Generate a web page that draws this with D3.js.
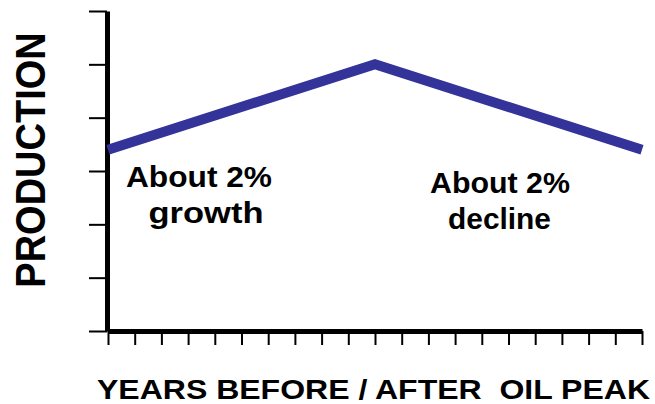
<!DOCTYPE html>
<html><head><meta charset="utf-8">
<script src="https://cdn.jsdelivr.net/npm/d3@7"></script>
<style>html,body{margin:0;padding:0;background:#fff;}svg{display:block;}text{font-family:Arial,"Liberation Sans",Helvetica,sans-serif;font-weight:bold;fill:#000;}</style>
</head><body><svg id="c" width="655" height="404"></svg>
<script>
const years = [-10, 0, 10];
const production = [3.4, 5, 3.4];
const xTicks = d3.range(-10, 11);
const yTicks = [0, 1, 2, 3, 4, 5, 6];
const labelsGrowth = ["About 2%", "growth"];
const labelsDecline = ["About 2%", "decline"];
const xTitle = "YEARS BEFORE / AFTER  OIL PEAK";
const yTitle = "PRODUCTION";

const svg = d3.select("#c");
const x = d3.scaleLinear().domain([-10, 10]).range([108, 642]);
const y = d3.scaleLinear().domain([0, 6]).range([331, 11]);

const gy = svg.append("g").attr("transform", "translate(107,0)")
  .call(d3.axisLeft(y).tickValues(yTicks).tickSize(18).tickSizeOuter(0).tickFormat(""));
gy.select(".domain").attr("stroke", "#000").attr("stroke-width", 5);
gy.selectAll(".tick line").attr("stroke", "#000").attr("stroke-width", 2);

const gx = svg.append("g").attr("transform", "translate(0,331)")
  .call(d3.axisBottom(x).tickValues(xTicks).tickSize(14).tickSizeOuter(0).tickFormat(""));
gx.select(".domain").attr("stroke", "#000").attr("stroke-width", 5);
gx.selectAll(".tick line").attr("stroke", "#000").attr("stroke-width", 2);

svg.append("path")
  .datum(years.map((d, i) => [d, production[i]]))
  .attr("fill", "none").attr("stroke", "#333399").attr("stroke-width", 10)
  .attr("stroke-linejoin", "miter")
  .attr("d", d3.line().x(d => x(d[0])).y(d => y(d[1])));

function label(txt, cx, by, w) {
  svg.append("text").attr("x", cx).attr("y", by).attr("text-anchor", "middle")
    .attr("font-size", 29).attr("textLength", w).attr("lengthAdjust", "spacingAndGlyphs")
    .text(txt);
}
label(labelsGrowth[0], 199, 187, 146);
label(labelsGrowth[1], 206, 223, 115);
label(labelsDecline[0], 500, 193, 140);
label(labelsDecline[1], 499.5, 229, 103);

svg.append("text").attr("x", 97).attr("y", 399).attr("font-size", 28.5)
  .style("white-space", "pre")
  .attr("textLength", 553).attr("lengthAdjust", "spacingAndGlyphs").text(xTitle);

svg.append("text").attr("text-anchor", "middle").attr("font-size", 38)
  .attr("transform", "translate(45,160) scale(1.135,1) rotate(-90)")
  .text(yTitle);
</script></body></html>
